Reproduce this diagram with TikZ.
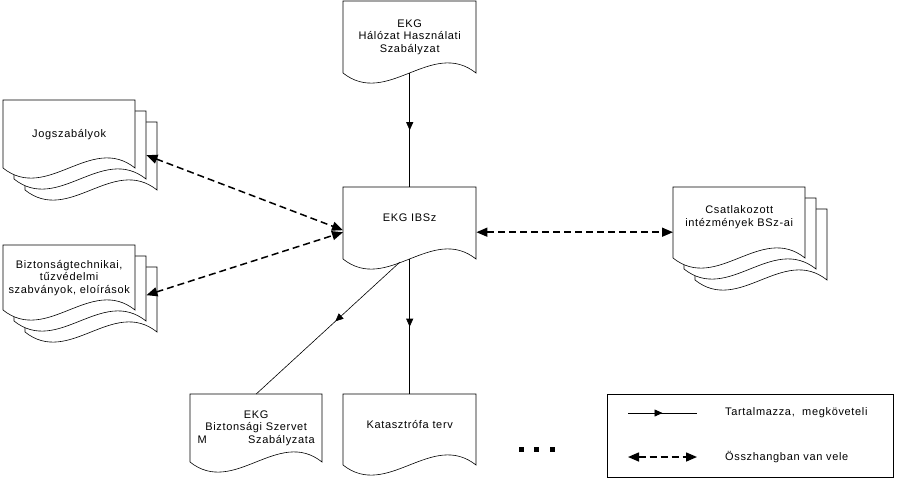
\documentclass[tikz,border=0pt]{standalone}
\usepackage{fontspec}
\setmainfont[LetterSpace=6]{Liberation Sans}
\usetikzlibrary{arrows.meta,decorations.markings,calc}
\tikzset{
  docline/.style={draw=black, fill=white, line width=0.6pt},
  doctext/.style={anchor=north west, inner sep=0pt, align=center, font=\fontsize{11}{12.5}\selectfont},
  lbl/.style={anchor=west, inner sep=0pt, font=\fontsize{11}{12.5}\selectfont},
  contains/.style={line width=0.6pt, postaction={decorate},
    decoration={markings, mark=at position #1 with {\arrow{Triangle[length=8pt,width=7pt]}}}},
  contains/.default=0.5,
  consist/.style={line width=1.5pt, dash pattern=on 7pt off 4pt,
    {Triangle[length=11pt,width=9pt]}-{Triangle[length=11pt,width=9pt]}},
}
% #1 name, #2 x, #3 y, #4 w, #5 h, #6 text
\newcommand{\docshape}[6]{%
  \draw[docline] (#2+#4,#3+#5) .. controls (#2+#4*2/3,#3+#5-35) and (#2+#4/3,#3+#5+35) .. (#2,#3+#5) -- (#2,#3) -- (#2+#4,#3) -- cycle;
  \node[doctext, minimum width=#4pt, minimum height=#5pt] (#1) at (#2,#3) {#6};
}
\begin{document}
\begin{tikzpicture}[x=1pt,y=-1pt]
\useasboundingbox (0,0) rectangle (898,480);

% single documents
\docshape{top}{343}{1}{133}{72}{EKG\\Hálózat Használati\\Szabályzat}
\docshape{ibsz}{343}{187}{133}{72}{EKG IBSz\\[-2pt]}
\docshape{szervet}{190}{394}{132}{68}{EKG\\Biztonsági Szervet\\\makebox[117pt]{M\hfill Szabályzata}}
\docshape{kat}{343}{394}{133}{71}{Katasztrófa terv\\[-2pt]}

% multi documents
\docshape{jog3}{25}{122}{132}{68}{}
\docshape{jog2}{14}{111}{132}{68}{}
\docshape{jog}{3}{100}{132}{68}{Jogszabályok}

\docshape{bizt3}{25}{267}{132}{65}{}
\docshape{bizt2}{14}{256}{132}{65}{}
\docshape{bizt}{3}{245}{132}{65}{Biztonságtechnikai,\\tűzvédelmi\\szabványok, eloírások}

\docshape{csat3}{695}{209}{132}{71}{}
\docshape{csat2}{684}{198}{132}{71}{}
\docshape{csat}{673}{187}{132}{71}{Csatlakozott\\intézmények BSz-ai\\[1pt]}

% solid connectors
\coordinate (ibszW) at (400,262);
\draw[contains] (top.south) -- (ibsz.north);
\draw[contains] (ibsz.south) -- (kat.north);
\draw[contains=0.45] (ibszW) -- (szervet.north);

% dashed connectors
\draw[consist] ($(jog2.east)+(0,10)$) -- ($(ibsz.west)+(0,7)$);
\draw[consist] ($(bizt2.east)+(0,6.5)$) -- ($(ibsz.west)+(0,9)$);
\coordinate (ibszE) at ($(ibsz.east)+(0,9)$);
\draw[consist] (ibszE) -- (csat.west |- ibszE);

% dots
\fill (518.5,447) rectangle ++(5,5);
\fill (533.5,447) rectangle ++(5,5);
\fill (549.5,447) rectangle ++(5,5);

% legend
\node[draw, line width=0.6pt, inner sep=0pt, minimum width=286pt, minimum height=83pt, anchor=north west] (legend) at (607,394) {};
\coordinate (l1a) at (628,413);
\coordinate (l1b) at (697,413);
\coordinate (l2a) at (628,457);
\coordinate (l2b) at (697,457);
\draw[contains] (l1a) -- (l1b);
\draw[consist] (l2a) -- (l2b);
\node[lbl] (l1t) at (725,413) {Tartalmazza,\ \ megköveteli};
\node[lbl] (l2t) at (725,457) {Összhangban van vele};
\end{tikzpicture}
\end{document}
